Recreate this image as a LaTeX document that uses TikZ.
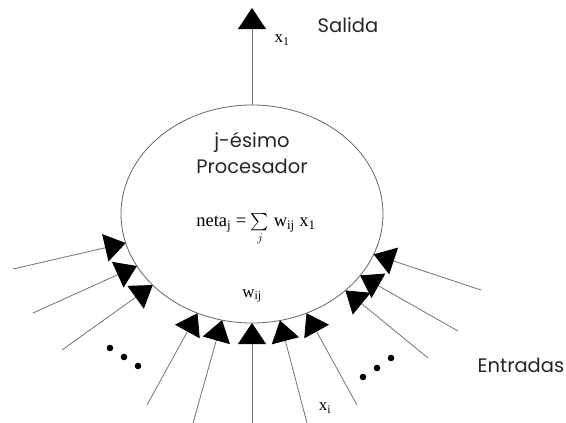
\documentclass[tikz,border=0pt]{standalone}
\usepackage[no-math]{fontspec}
\usepackage{amsmath}
\setmainfont{Poppins}
\newfontfamily\serifa{Liberation Serif}
\usetikzlibrary{arrows.meta,shapes.geometric}

\tikzset{
  linea/.style={draw=black!55, line width=0.8pt,
    -{Triangle[length=21pt,width=28pt,color=black]}},
  etiqueta/.style={font=\fontsize{19.5}{21}\selectfont, text=black!85, inner sep=0pt},
  formula/.style={font=\serifa\fontsize{17}{19}\selectfont, inner sep=0pt}
}

\begin{document}
\begin{tikzpicture}[x=1pt, y=-1pt]
  % 枠
  \useasboundingbox (0,0) rectangle (566,423);
  % 処理ユニット（楕円）
  \node[draw=black!60, line width=0.8pt, ellipse, minimum width=262pt,
        minimum height=218pt, inner sep=0pt, outer sep=0pt] (proc) at (252,214) {};
  % 出力
  \coordinate (salida) at (252,8);
  \draw[linea] (proc.north) -- (salida);
  \node[formula] (x1) at (282,40) {x\textsubscript{1}};
  \node[etiqueta] (lsalida) at (348,25) {Salida};
  % 内側のテキスト
  \node[etiqueta] (titulo) at (252,142) {j-ésimo};
  \node[etiqueta] (titulo2) at (252,166) {Procesador};
  \node[formula, font=\serifa\fontsize{18.5}{20}\selectfont] (neta) at (256,230)
    {neta\textsubscript{j} = $\underset{j}{\textstyle\sum}$ w\textsubscript{ij} x\textsubscript{1}};
  \node[formula] (wij) at (252,296) {w\textsubscript{ij}};
  % 入力（外側の端点）
  \foreach \n/\x/\y in {1/13/269, 2/33/313, 3/62/350, 4/147/405,
                        5/193/423, 6/252/423, 7/307/423, 8/357/405,
                        9/428/358, 10/458/331, 11/481/290} {
    \coordinate (in\n) at (\x,\y);
    \draw[linea] (in\n) -- (proc);
  }
  % 省略記号
  \foreach \x/\y in {110/348,124/357,138/366,363/377,377/368,391/358} {
    \fill (\x,\y) circle (3.3pt);
  }
  \node[formula] (xi) at (325,408) {x\textsubscript{i}};
  \node[etiqueta] (entradas) at (521,365) {Entradas};
\end{tikzpicture}
\end{document}
